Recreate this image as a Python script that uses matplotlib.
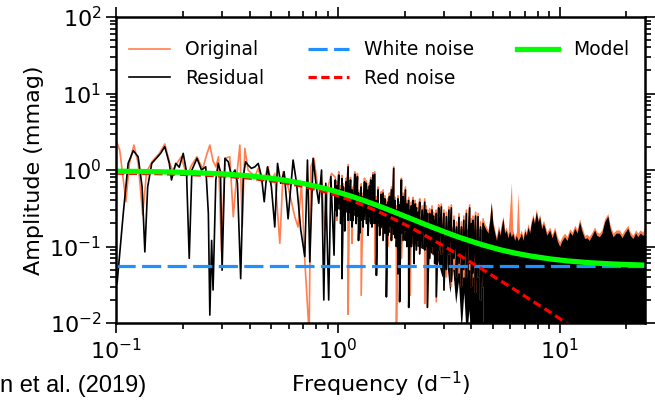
import matplotlib
matplotlib.use("Agg")
import matplotlib.pyplot as plt
import numpy as np

# low-frequency part of the amplitude spectra (d^-1, mmag)
res_lf_freq = [0.1, 0.1014, 0.1079, 0.1135, 0.1197, 0.1259, 0.1312, 0.135, 0.139, 0.145,
               0.153, 0.159, 0.166, 0.174, 0.178, 0.186, 0.193, 0.201, 0.208, 0.214,
               0.220, 0.232, 0.243, 0.254, 0.261, 0.265, 0.270, 0.274, 0.282, 0.289,
               0.296, 0.301, 0.310, 0.321, 0.332, 0.344, 0.353, 0.365, 0.375, 0.384,
               0.394, 0.408, 0.423, 0.438, 0.453, 0.466, 0.482, 0.502, 0.520, 0.535,
               0.553, 0.573, 0.597, 0.629, 0.652, 0.681, 0.710, 0.730, 0.748, 0.774,
               0.802, 0.821, 0.845, 0.865, 0.883, 0.910, 0.931, 0.962]
res_lf_amp = [0.030, 0.035, 0.27, 1.22, 1.79, 1.49, 0.605, 0.085, 0.60, 1.22,
              1.45, 1.65, 2.02, 1.22, 0.74, 1.22, 1.09, 1.65, 0.95, 0.070,
              1.0, 1.42, 1.0, 1.1, 0.27, 0.0127, 0.12, 0.027, 0.74, 1.22,
              0.95, 0.049, 1.42, 1.28, 0.82, 1.0, 0.67, 0.038, 0.82, 1.28,
              1.16, 1.05, 1.10, 1.22, 0.82, 0.385, 1.10, 0.605, 0.18, 1.22,
              0.67, 0.95, 0.23, 1.35, 0.67, 0.164, 0.074, 1.35, 0.063, 1.42,
              0.577, 0.367, 1.0, 0.020, 0.67, 0.020, 0.82, 0.077]

orig_lf_freq = [0.1, 0.1007, 0.104, 0.108, 0.1109, 0.115, 0.1205, 0.126, 0.132, 0.1375,
                0.146, 0.157, 0.166, 0.175, 0.180, 0.188, 0.197, 0.209, 0.219, 0.232,
                0.246, 0.256, 0.265, 0.274, 0.282, 0.290, 0.299, 0.310, 0.326, 0.338,
                0.350, 0.362, 0.371, 0.381, 0.394, 0.423, 0.438, 0.453, 0.469, 0.485,
                0.502, 0.520, 0.548, 0.567, 0.597, 0.640, 0.662, 0.686, 0.710, 0.743,
                0.756, 0.781, 0.815, 0.845, 0.873, 0.904, 0.937, 0.969]
orig_lf_amp = [2.5, 2.34, 1.82, 0.74, 0.385, 1.22, 2.12, 1.22, 0.26, 0.95,
               1.31, 1.65, 2.19, 1.22, 0.98, 1.22, 1.49, 0.82, 1.15, 1.49,
               1.03, 1.56, 2.12, 1.31, 1.10, 1.49, 0.085, 1.42, 1.49, 0.245,
               0.82, 2.12, 0.18, 1.92, 1.0, 0.82, 1.05, 0.70, 0.82, 1.10,
               0.67, 0.90, 0.11, 0.95, 0.605, 0.245, 0.18, 0.67, 0.067, 0.007,
               1.10, 1.42, 0.55, 0.74, 0.164, 0.605, 0.90, 0.82]

# 1-4.5 d^-1: local maxima / minima of the spectra
hf_freq = [0.975, 0.99, 1.010, 1.03, 1.045, 1.06, 1.075, 1.09, 1.113, 1.13,
           1.141, 1.16, 1.172, 1.193, 1.21, 1.226, 1.24, 1.256, 1.275, 1.300,
           1.32, 1.346, 1.37, 1.39, 1.408, 1.425, 1.442, 1.468, 1.493, 1.52,
           1.545, 1.57, 1.60, 1.63, 1.656, 1.68, 1.71, 1.745, 1.787, 1.81,
           1.837, 1.869, 1.90, 1.935, 1.968, 2.018, 2.05, 2.088, 2.12, 2.147,
           2.18, 2.207, 2.23, 2.26, 2.30, 2.34, 2.40, 2.466, 2.50, 2.535,
           2.595, 2.66, 2.70, 2.735, 2.78, 2.85, 2.93, 3.01, 3.087, 3.17,
           3.25, 3.34, 3.43, 3.52, 3.61, 3.70, 3.80, 3.93, 4.00, 4.07,
           4.18, 4.29, 4.40, 4.52]
res_hi = [0.74, 0.62, 0.86, 0.55, 0.77, 0.60, 0.50, 0.70, 1.10, 0.60,
          0.74, 0.55, 0.48, 0.88, 0.62, 0.82, 0.50, 0.45, 0.60, 0.45,
          0.70, 0.67, 0.55, 0.62, 0.74, 0.50, 0.86, 0.88, 0.40, 0.55,
          0.32, 0.48, 0.50, 0.42, 0.35, 0.38, 0.45, 0.55, 1.05, 0.40,
          0.30, 0.42, 0.35, 0.74, 0.45, 0.55, 0.36, 0.40, 0.30, 0.34,
          0.40, 0.32, 0.36, 0.32, 0.28, 0.38, 0.30, 0.38, 0.30, 0.27,
          0.27, 0.30, 0.25, 0.22, 0.27, 0.32, 0.33, 0.27, 0.245, 0.30,
          0.32, 0.22, 0.18, 0.24, 0.18, 0.22, 0.27, 0.32, 0.20, 0.22,
          0.25, 0.245, 0.18, 0.20]
res_lo = [0.30, 0.25, 0.35, 0.20, 0.038, 0.25, 0.16, 0.30, 0.22, 0.28,
          0.22, 0.18, 0.22, 0.30, 0.20, 0.25, 0.12, 0.15, 0.22, 0.18,
          0.25, 0.20, 0.14, 0.25, 0.20, 0.18, 0.28, 0.20, 0.042, 0.20,
          0.14, 0.18, 0.12, 0.15, 0.022, 0.14, 0.18, 0.12, 0.20, 0.13,
          0.10, 0.044, 0.019, 0.15, 0.12, 0.16, 0.10, 0.016, 0.12, 0.10,
          0.14, 0.06, 0.11, 0.09, 0.12, 0.08, 0.10, 0.09, 0.10, 0.016,
          0.07, 0.10, 0.08, 0.06, 0.022, 0.09, 0.08, 0.027, 0.05, 0.08,
          0.035, 0.07, 0.04, 0.06, 0.03, 0.05, 0.04, 0.06, 0.03, 0.045,
          0.025, 0.04, 0.02, 0.03]
orig_hi = [0.80, 0.70, 0.95, 0.62, 0.85, 0.66, 0.56, 0.78, 1.18, 0.66,
           0.80, 0.60, 0.54, 0.95, 0.70, 0.90, 0.55, 0.52, 0.66, 0.50,
           0.78, 0.72, 0.60, 0.68, 0.80, 0.55, 0.92, 0.95, 0.45, 0.60,
           0.36, 0.52, 0.55, 0.46, 0.40, 0.42, 0.50, 0.60, 1.10, 0.44,
           0.34, 0.46, 0.38, 0.78, 0.50, 0.60, 0.40, 0.44, 0.34, 0.38,
           0.44, 0.36, 0.40, 0.36, 0.32, 0.42, 0.34, 0.42, 0.34, 0.30,
           0.31, 0.34, 0.28, 0.26, 0.30, 0.35, 0.36, 0.30, 0.28, 0.33,
           0.35, 0.25, 0.21, 0.27, 0.21, 0.25, 0.30, 0.35, 0.23, 0.25,
           0.28, 0.27, 0.21, 0.23]
orig_lo = [0.30, 0.22, 0.35, 0.20, 0.045, 0.25, 0.16, 0.30, 0.013, 0.28,
           0.22, 0.11, 0.22, 0.30, 0.20, 0.25, 0.12, 0.15, 0.023, 0.18,
           0.25, 0.20, 0.14, 0.25, 0.20, 0.18, 0.28, 0.06, 0.042, 0.20,
           0.14, 0.18, 0.12, 0.15, 0.022, 0.10, 0.18, 0.12, 0.20, 0.13,
           0.006, 0.044, 0.019, 0.07, 0.12, 0.16, 0.10, 0.016, 0.023, 0.10,
           0.14, 0.06, 0.11, 0.09, 0.12, 0.08, 0.10, 0.018, 0.10, 0.016,
           0.07, 0.10, 0.08, 0.06, 0.019, 0.09, 0.08, 0.027, 0.04, 0.08,
           0.03, 0.05, 0.04, 0.045, 0.03, 0.04, 0.04, 0.05, 0.03, 0.04,
           0.025, 0.04, 0.02, 0.03]

# dense core of the residual spectrum between 1 and 4.5 d^-1
band_freq = [0.975, 1.1, 1.25, 1.4, 1.6, 1.8, 2.0, 2.3, 2.6, 2.8,
             2.95, 3.1, 3.2, 3.3, 3.4, 3.5, 3.6, 3.7, 3.8, 3.9,
             4.0, 4.1, 4.2, 4.3, 4.4, 4.52]
band_hi = [0.42, 0.40, 0.38, 0.36, 0.30, 0.27, 0.25, 0.22, 0.20, 0.20,
           0.19, 0.19, 0.18, 0.18, 0.17, 0.17, 0.17, 0.17, 0.17, 0.17,
           0.17, 0.17, 0.17, 0.17, 0.17, 0.17]
band_lo = [0.32, 0.28, 0.24, 0.21, 0.17, 0.14, 0.12, 0.10, 0.085, 0.07,
           0.04, 0.06, 0.025, 0.05, 0.018, 0.035, 0.008, 0.025, 0.006, 0.015,
           0.005, 0.01, 0.005, 0.005, 0.005, 0.005]

# > 4.5 d^-1: upper envelope of the dense spectra
tail_freq = [4.52, 4.64, 4.76, 4.84, 4.92, 5.00, 5.10, 5.19, 5.30, 5.40, 5.46,
             5.56, 5.65, 5.75, 5.85, 5.95, 6.06, 6.15, 6.27, 6.38, 6.49,
             6.60, 6.72, 6.84, 6.96, 7.08, 7.20, 7.33, 7.45, 7.58, 7.70,
             7.85, 8.00, 8.13, 8.30, 8.45, 8.56, 8.75, 9.02, 9.25, 9.50,
             9.75, 10.0, 10.25, 10.53, 10.8, 11.1, 11.4, 11.69, 12.0, 12.3,
             12.6, 12.96, 13.3, 13.6, 14.0, 14.38, 14.7, 15.1, 15.5, 15.95,
             16.5, 16.9, 17.4, 18.0, 18.6, 19.1, 19.6, 20.3, 20.8, 21.4,
             22.0, 22.5, 23.1, 23.7, 24.5]
res_tail = [0.20, 0.17, 0.15, 0.22, 0.37, 0.20, 0.15, 0.12, 0.17, 0.14, 0.18,
            0.233, 0.15, 0.164, 0.13, 0.16, 0.134, 0.15, 0.12, 0.14, 0.12,
            0.13, 0.149, 0.12, 0.16, 0.14, 0.18, 0.15, 0.20, 0.245, 0.20,
            0.285, 0.21, 0.245, 0.17, 0.20, 0.18, 0.14, 0.164, 0.13, 0.164,
            0.12, 0.10, 0.12, 0.134, 0.12, 0.155, 0.14, 0.173, 0.15, 0.21,
            0.16, 0.127, 0.13, 0.12, 0.14, 0.164, 0.14, 0.134, 0.15, 0.21,
            0.25, 0.17, 0.134, 0.15, 0.149, 0.13, 0.149, 0.173, 0.14, 0.127,
            0.15, 0.134, 0.15, 0.14, 0.149]
orig_tail = [0.23, 0.19, 0.165, 0.24, 0.39, 0.22, 0.165, 0.135, 0.19, 0.155, 0.20,
             0.25, 0.165, 0.18, 0.145, 0.30, 0.69, 0.165, 0.135, 0.155, 0.51,
             0.145, 0.165, 0.135, 0.175, 0.155, 0.20, 0.165, 0.22, 0.265, 0.22,
             0.31, 0.23, 0.265, 0.19, 0.22, 0.20, 0.155, 0.18, 0.145, 0.18,
             0.135, 0.115, 0.135, 0.15, 0.135, 0.17, 0.155, 0.19, 0.165, 0.23,
             0.18, 0.14, 0.145, 0.135, 0.155, 0.18, 0.155, 0.15, 0.165, 0.23,
             0.27, 0.19, 0.15, 0.165, 0.165, 0.145, 0.165, 0.19, 0.155, 0.14,
             0.165, 0.15, 0.165, 0.155, 0.20]

# fitted noise model
model_freq = [0.1, 0.15, 0.2, 0.3, 0.4, 0.5, 0.6, 0.7, 0.8, 0.9,
              1.0, 1.15, 1.32, 1.55, 1.81, 2.1, 2.47, 3.03, 3.5, 3.93,
              4.5, 5.37, 6.3, 7.33, 9.0, 10.9, 13.6, 17.0, 20.0, 24.5]
model_amp = [0.964, 0.951, 0.934, 0.891, 0.838, 0.781, 0.722, 0.665, 0.611, 0.561,
             0.515, 0.454, 0.396, 0.334, 0.280, 0.236, 0.195, 0.155, 0.133, 0.119,
             0.105, 0.091, 0.082, 0.0754, 0.069, 0.0647, 0.0614, 0.0592, 0.0581, 0.0571]
red_freq = model_freq[:27]
red_amp = [0.909, 0.896, 0.879, 0.836, 0.783, 0.726, 0.667, 0.610, 0.556, 0.506,
           0.460, 0.399, 0.341, 0.279, 0.225, 0.181, 0.140, 0.0998, 0.0779, 0.0636,
           0.050, 0.0362, 0.0271, 0.0204, 0.014, 0.0097, 0.0064]
white_freq = [0.1, 24.5]
white_amp = [0.055, 0.055]

FLOOR = 0.005


def zigzag(freq, hi, lo):
    x = np.repeat(freq, 2)
    y = np.column_stack([hi, lo]).ravel()
    return x, y


hx, hy = zigzag(hf_freq, res_hi, res_lo)
res_x = np.concatenate([res_lf_freq, hx])
res_y = np.concatenate([res_lf_amp, hy])
ox, oy = zigzag(hf_freq, orig_hi, orig_lo)
orig_x = np.concatenate([orig_lf_freq, ox])
orig_y = np.concatenate([orig_lf_amp, oy])

fig = plt.figure(figsize=(6.55, 4.01), dpi=100)
ax = fig.add_axes([0.177, 0.1945, 0.808, 0.7631])

ax.plot(orig_x, orig_y, color="coral", lw=1.2, label="Original")
ax.fill_between(tail_freq, FLOOR, orig_tail, color="coral", lw=0)
ax.plot(res_x, res_y, color="black", lw=1.2, label="Residual")
ax.fill_between(band_freq, band_lo, band_hi, color="black", lw=0)
ax.fill_between(tail_freq, FLOOR, res_tail, color="black", lw=0)
ax.plot(white_freq, white_amp, color="dodgerblue", lw=2.3, dashes=(6, 2),
        label="White noise")
ax.plot(red_freq, red_amp, color="red", lw=2.3, dashes=(2.6, 1.4),
        label="Red noise")
ax.plot(model_freq, model_amp, color="lime", lw=3.8, label="Model")

ax.set_xscale("log")
ax.set_yscale("log")
ax.set_xlim(0.1, 24.3)
ax.set_ylim(0.01, 100)

ax.set_xlabel("Frequency (d$^{-1}$)", fontsize=16, labelpad=5)
ax.set_ylabel("Amplitude (mmag)", fontsize=16, labelpad=4)
ax.tick_params(which="both", direction="out", top=True, right=True,
               labelsize=16, width=1.2)
ax.tick_params(which="major", length=7)
ax.tick_params(which="minor", length=4)
for s in ax.spines.values():
    s.set_linewidth(1.8)

ax.legend(loc="upper left", bbox_to_anchor=(0.0, 0.967), ncol=3, frameon=False,
          fontsize=13.5, handlelength=2.2, columnspacing=2.3, borderaxespad=0.3)

fig.text(0.0, 0.01, "n et al. (2019)", fontsize=17, family="Liberation Sans",
         ha="left", va="bottom")

fig.savefig("out.png", dpi=100)
